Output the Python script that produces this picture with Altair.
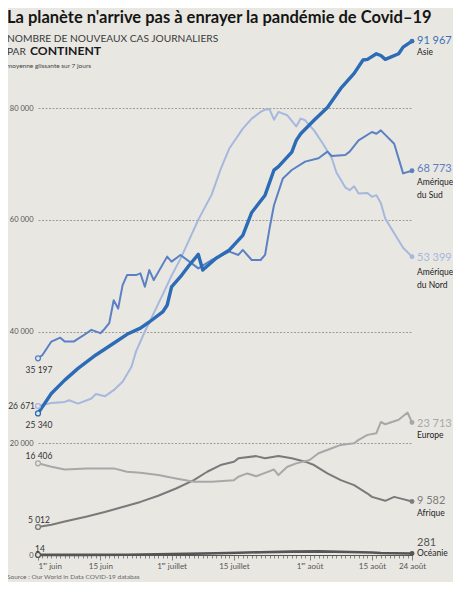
import altair as alt
import pandas as pd

ANNEE = "2020-"
DEBUT = pd.Timestamp("2020-06-01")

# ---- données (moyenne glissante 7 jours) ----
asie_dates = ["06-01", "06-04", "06-07", "06-10", "06-14", "06-18", "06-21", "06-24", "06-26", "06-29",
              "06-30", "07-01", "07-03", "07-05", "07-07", "07-08", "07-11", "07-14", "07-17", "07-19",
              "07-22", "07-24", "07-25", "07-28", "07-29", "07-30", "08-02", "08-05", "08-08", "08-11",
              "08-13", "08-14", "08-16", "08-17", "08-18", "08-21", "08-22", "08-24"]
asie_vals = [25340, 28900, 31300, 33400, 35800, 37900, 39500, 40600, 41700, 43500,
             44700, 48000, 49800, 51900, 53800, 51000, 53100, 54600, 57200, 61300,
             64400, 68900, 69500, 72100, 74200, 75400, 77800, 80100, 83500, 86200,
             88600, 88700, 89700, 89400, 88700, 89700, 90900, 91967]

sud_dates = ["06-01", "06-02", "06-04", "06-06", "06-07", "06-09", "06-11", "06-13", "06-15", "06-16",
             "06-17", "06-18", "06-19", "06-20", "06-21", "06-23", "06-24", "06-25", "06-26", "06-27",
             "06-30", "07-01", "07-03", "07-05", "07-07", "07-10", "07-14", "07-16", "07-17", "07-19",
             "07-21", "07-22", "07-23", "07-24", "07-26", "07-28", "07-31", "08-03", "08-05", "08-06",
             "08-09", "08-10", "08-12", "08-15", "08-16", "08-17", "08-20", "08-22", "08-24"]
sud_vals = [35197, 35800, 38200, 38900, 38200, 38200, 39200, 40300, 39700, 40500,
            41500, 45600, 44100, 48300, 50100, 50100, 50400, 48000, 51000, 49200,
            53400, 52500, 53700, 52500, 51300, 52800, 54300, 53700, 54600, 52800,
            52800, 53700, 58400, 62600, 67400, 68900, 70400, 71000, 72200, 71400,
            71600, 72200, 74200, 75700, 75400, 76000, 73600, 68300, 68773]

nord_dates = ["06-01", "06-04", "06-07", "06-08", "06-10", "06-13", "06-14", "06-16", "06-18", "06-20",
              "06-22", "06-23", "06-25", "06-27", "06-29", "07-01", "07-03", "07-05", "07-07", "07-08",
              "07-10", "07-12", "07-14", "07-17", "07-19", "07-21", "07-22", "07-23", "07-24", "07-25",
              "07-27", "07-29", "07-30", "07-31", "08-02", "08-04", "08-06", "08-07", "08-09", "08-10",
              "08-11", "08-12", "08-14", "08-15", "08-16", "08-17", "08-18", "08-20", "08-22", "08-24"]
nord_vals = [26671, 27200, 27400, 27700, 27100, 28000, 28800, 28400, 29500, 31000,
             33700, 36400, 40000, 43300, 46600, 50000, 53000, 56500, 60000, 61500,
             64500, 69000, 72800, 76300, 78100, 79300, 79700, 79800, 77900, 79300,
             78700, 76700, 78100, 77800, 76000, 73600, 71000, 68500, 65800, 65300,
             66000, 64700, 64800, 64100, 64400, 63000, 60200, 57600, 55000, 53399]

europe_dates = ["06-01", "06-04", "06-07", "06-12", "06-18", "06-21", "06-24", "06-28", "07-02", "07-06",
                "07-10", "07-15", "07-16", "07-18", "07-20", "07-22", "07-24", "07-25", "07-27", "07-29",
                "08-01", "08-03", "08-06", "08-08", "08-11", "08-12", "08-14", "08-16", "08-17", "08-18",
                "08-21", "08-23", "08-24"]
europe_vals = [16406, 15800, 15300, 15500, 15500, 14900, 14700, 14300, 13700, 13100,
               13100, 13400, 14000, 14600, 14100, 14700, 15300, 14300, 15800, 16400,
               17000, 18200, 19100, 19700, 20000, 20600, 21500, 21800, 23800, 23400,
               24200, 25500, 23713]

afrique_dates = ["06-01", "06-04", "06-07", "06-12", "06-16", "06-21", "06-24", "06-28", "07-02", "07-06",
                 "07-09", "07-12", "07-15", "07-16", "07-20", "07-22", "07-25", "07-28", "07-31", "08-02",
                 "08-05", "08-08", "08-11", "08-14", "08-15", "08-18", "08-20", "08-22", "08-24"]
afrique_vals = [5012, 5400, 6000, 6900, 7700, 8800, 9500, 10600, 11900, 13400,
                14900, 16100, 16700, 17300, 17700, 17300, 17700, 17300, 16700, 16100,
                14600, 13400, 12500, 11000, 10400, 9700, 10400, 10000, 9582]

oceanie_dates = ["06-01", "06-11", "06-21", "07-01", "07-11", "07-16", "07-21", "07-28", "08-03", "08-10",
                 "08-15", "08-17", "08-20", "08-24"]
oceanie_vals = [14, 20, 40, 150, 300, 400, 500, 600, 650, 550, 450, 350, 300, 281]

continents = ["Océanie", "Afrique", "Europe", "Amérique du Nord", "Amérique du Sud", "Asie"]
noms_affiches = ["Océanie", "Afrique", "Europe", "Amérique\ndu Nord", "Amérique\ndu Sud", "Asie"]

x_tick_dates = ["06-01", "06-15", "07-01", "07-15", "08-01", "08-15", "08-24"]
x_tick_labels = ["1ᵉʳ juin", "15 juin", "1ᵉʳ juillet", "15 juillet", "1ᵉʳ août", "15 août", "24 août"]
y_ticks = [0, 20000, 40000, 60000, 80000]

TITRE = "La planète n'arrive pas à enrayer la pandémie de Covid–19"
SOUS_TITRE_1 = "NOMBRE DE NOUVEAUX CAS JOURNALIERS"
SOUS_TITRE_PAR = "PAR"
SOUS_TITRE_CONT = "CONTINENT"
SOUS_TITRE_3 = "moyenne glissante sur 7 jours"
SOURCE = "Source : Our World in Data COVID-19 databas"

# ---- styles ----
BG = "#e9e7e2"
FONT = "Lato, sans-serif"

styles = {
    "Océanie": dict(color="#555555", width=2.6, vcolor="#555555"),
    "Afrique": dict(color="#7a7a7a", width=2.0, vcolor="#7d7d7d"),
    "Europe": dict(color="#a8a8a8", width=2.0, vcolor="#a8a8a8"),
    "Amérique du Nord": dict(color="#a6b8dd", width=2.0, vcolor="#a6b8dd"),
    "Amérique du Sud": dict(color="#5b80c3", width=2.0, vcolor="#5b80c3"),
    "Asie": dict(color="#2c6bb5", width=3.4, vcolor="#3a70b8"),
}
# start label offsets: (dx, dy, align, baseline)
start_style = {
    "Océanie": (2, -3, "center", "alphabetic"),
    "Afrique": (1, -4, "center", "alphabetic"),
    "Europe": (1, -4, "center", "alphabetic"),
    "Amérique du Nord": (-3, 0, "right", "middle"),
    "Amérique du Sud": (1, 15, "center", "alphabetic"),
    "Asie": (1, 15, "center", "alphabetic"),
}
# end value label (dx, dy, baseline) and name label (dx, dy, baseline)
end_style = {
    "Océanie": ((5, -7, "alphabetic"), (5, 0, "middle")),
    "Afrique": ((5, 0, "middle"), (5, 15, "alphabetic")),
    "Europe": ((5, 1.5, "middle"), (5, 15, "alphabetic")),
    "Amérique du Nord": ((5, 1, "middle"), (5, 18.5, "alphabetic")),
    "Amérique du Sud": ((5, -1.5, "middle"), (5, 14.5, "alphabetic")),
    "Asie": ((5, 0, "middle"), (5, 14, "alphabetic")),
}

raw = {
    "Océanie": (oceanie_dates, oceanie_vals),
    "Afrique": (afrique_dates, afrique_vals),
    "Europe": (europe_dates, europe_vals),
    "Amérique du Nord": (nord_dates, nord_vals),
    "Amérique du Sud": (sud_dates, sud_vals),
    "Asie": (asie_dates, asie_vals),
}


def fmt(v):
    return f"{v:,}".replace(",", " ")


def serie_df(nom, affiche, dates, valeurs):
    d = pd.to_datetime([ANNEE + s for s in dates])
    return pd.DataFrame({
        "jour": [int(x) for x in (d - DEBUT).days],
        "valeur": valeurs,
        "serie": nom,
        "nom": affiche,
        "label": [fmt(v) for v in valeurs],
    })


tick_jours = [int((pd.Timestamp(ANNEE + s) - DEBUT).days) for s in x_tick_dates]
expr = "''"
for j, lab in reversed(list(zip(tick_jours, x_tick_labels))):
    expr = f"datum.value == {j} ? '{lab}' : ({expr})"

x_axis = alt.Axis(
    values=list(range(0, tick_jours[-1] + 1)),
    labelExpr=expr,
    labelAlign={"condition": {"test": "datum.value == 0", "value": "left"}, "value": "center"},
    tickSize={"condition": {"test": f"indexof({tick_jours}, datum.value) >= 0", "value": 5}, "value": 3},
    tickColor="#6a6a6a", tickWidth=0.8,
    domainColor="#555555", domainWidth=1,
    labelOverlap=False, labelFlush=False, labelBound=False,
    labelFont=FONT, labelFontSize=8, labelColor="#555555", labelPadding=2,
    grid=False, title=None,
)
y_axis = alt.Axis(
    values=y_ticks,
    labelExpr="replace(format(datum.value, ','), ',', ' ')",
    grid=True, gridDash=[2, 1.5], gridColor="#8a8a8a", gridWidth=0.8,
    gridOpacity={"condition": {"test": "datum.value == 0", "value": 0}, "value": 1},
    ticks=False, domain=False,
    labelFont=FONT, labelFontSize=7.5, labelColor="#555555", labelPadding=5,
    title=None,
)
X = alt.X("jour:Q", scale=alt.Scale(domain=[0, tick_jours[-1]], nice=False, zero=False), axis=x_axis)
Y = alt.Y("valeur:Q", scale=alt.Scale(domain=[0, 80000], nice=False), axis=y_axis)

dfs = {n: serie_df(n, a, *raw[n]) for n, a in zip(continents, noms_affiches)}

layers = []
for n in continents:
    s = styles[n]
    layers.append(alt.Chart(dfs[n]).mark_line(color=s["color"], strokeWidth=s["width"],
                                               strokeJoin="round", strokeCap="round").encode(x=X, y=Y))

for n in continents:
    s = styles[n]
    df = dfs[n]
    first = df.head(1)
    last = df.tail(1)
    # open start dot
    layers.append(alt.Chart(first).mark_point(shape="circle", filled=True, fill=BG, stroke=s["color"],
                                              strokeWidth=1.3, size=24, opacity=1).encode(x=X, y=Y))
    # filled end dot
    layers.append(alt.Chart(last).mark_point(shape="circle", filled=True, color=s["vcolor"],
                                             size=24, opacity=1).encode(x=X, y=Y))
    dx, dy, al, bl = start_style[n]
    layers.append(alt.Chart(first).mark_text(dx=dx, dy=dy, align=al, baseline=bl, font=FONT,
                                             fontSize=8.5, color="#333333").encode(x=X, y=Y, text="label:N"))
    (vdx, vdy, vbl), (ndx, ndy, nbl) = end_style[n]
    layers.append(alt.Chart(last).mark_text(dx=vdx, dy=vdy, align="left", baseline=vbl, font=FONT,
                                            fontSize=11, color=s["vcolor"]).encode(x=X, y=Y, text="label:N"))
    layers.append(alt.Chart(last).mark_text(dx=ndx, dy=ndy, align="left", baseline=nbl, font=FONT,
                                            fontSize=8.5, lineBreak="\n", lineHeight=13,
                                            color="#222222").encode(x=X, y=Y, text="nom:N"))


def annot(txt, x, y, size, weight="normal", color="#333333"):
    return alt.Chart(pd.DataFrame({"t": [txt]})).mark_text(
        align="left", baseline="alphabetic", font=FONT, fontSize=size, fontWeight=weight, color=color
    ).encode(x=alt.value(x), y=alt.value(y), text="t:N")


layers += [
    annot(TITRE, -31, -85, 16.5, "bold", "#151515"),
    annot(SOUS_TITRE_1, -31, -66.5, 10.2, "normal", "#3a3a3a"),
    annot(SOUS_TITRE_PAR, -31, -53.5, 10.2, "normal", "#3a3a3a"),
    annot(SOUS_TITRE_CONT, -8, -53.5, 12.2, "bold", "#1a1a1a"),
    annot(SOUS_TITRE_3, -31, -40, 6.5, "normal", "#444444"),
    annot(SOURCE, -31, 471, 6.5, "normal", "#666666"),
]

chart = alt.layer(*layers).properties(
    width=374,
    height=447,
    autosize=alt.AutoSizeParams(type="none"),
    padding={"left": 30, "top": 100, "right": 41, "bottom": 27},
    background=BG,
).configure_view(stroke=None)

chart.save("out.html", embed_options={"renderer": "svg", "actions": False})
